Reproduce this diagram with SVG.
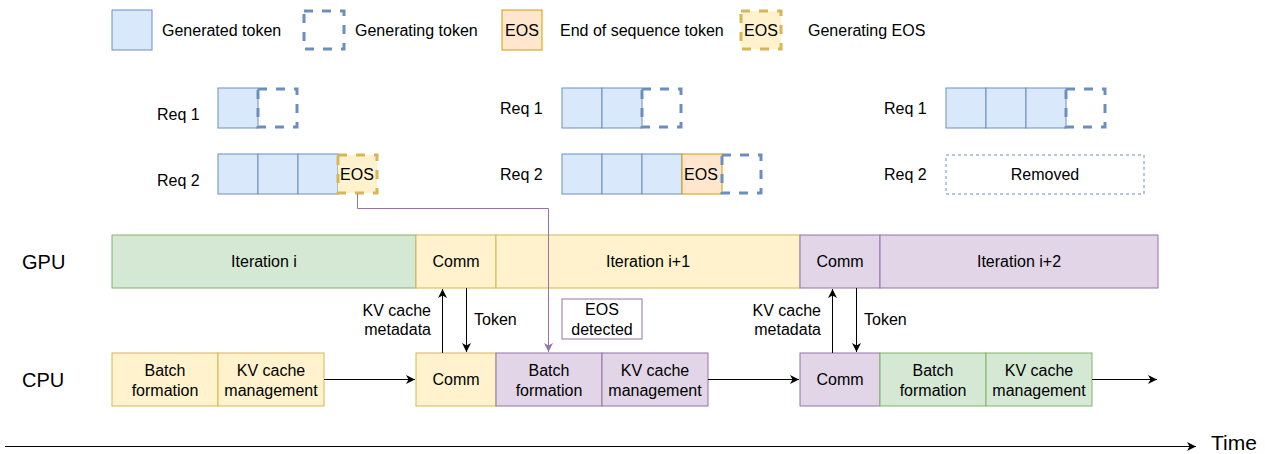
<svg xmlns="http://www.w3.org/2000/svg" width="1265" height="454" viewBox="0 0 1265 454">
<style>
text{font-family:"Liberation Sans",Arial,sans-serif;font-size:16px;fill:#000}
.c{text-anchor:middle}
.r{text-anchor:end}
.b{fill:#dae8fc;stroke:#6c8ebf;stroke-width:1}
.bd{fill:none;stroke:#6c8ebf;stroke-width:3;stroke-dasharray:9 9}
.o{fill:#ffe6cc;stroke:#d79b00;stroke-width:1}
.yd{fill:#fff2cc;stroke:#d6b656;stroke-width:3;stroke-dasharray:9 9}
.y{fill:#fff2cc;stroke:#d6b656;stroke-width:1}
.g{fill:#d5e8d4;stroke:#82b366;stroke-width:1}
.p{fill:#e1d5e7;stroke:#9673a6;stroke-width:1}
.rm{fill:none;stroke:#6c8ebf;stroke-width:1;stroke-dasharray:3 3}
.ln{fill:none;stroke:#000;stroke-width:1}
</style>
<defs>
<marker id="ah" markerWidth="10" markerHeight="10" refX="9" refY="5" orient="auto" markerUnits="userSpaceOnUse">
<path d="M0,0.5 L9,5 L0,9.5 L2.5,5 Z" fill="#000"/>
</marker>
<marker id="ahp" markerWidth="10" markerHeight="10" refX="9" refY="5" orient="auto" markerUnits="userSpaceOnUse">
<path d="M0,0.5 L9,5 L0,9.5 L2.5,5 Z" fill="#9673a6"/>
</marker>
</defs>

<g id="legend">
<rect class="b" x="112" y="10" width="40" height="40"/>
<text x="162" y="36">Generated token</text>
<rect class="bd" x="304" y="11" width="40" height="38"/>
<text x="355" y="36">Generating token</text>
<rect class="o" x="502" y="10" width="40" height="40"/>
<text class="c" x="522" y="36">EOS</text>
<text x="560" y="36">End of sequence token</text>
<rect class="yd" x="741" y="11" width="40" height="38"/>
<text class="c" x="761" y="36">EOS</text>
<text x="808" y="36">Generating EOS</text>
</g>

<g id="snapshot1">
<text x="157" y="120">Req 1</text>
<rect class="b" x="218" y="88" width="40" height="40"/>
<rect class="bd" x="258" y="89" width="39" height="38"/>
<text x="157" y="186">Req 2</text>
<rect class="b" x="218" y="154" width="40" height="40"/>
<rect class="b" x="258" y="154" width="40" height="40"/>
<rect class="b" x="298" y="154" width="40" height="40"/>
<rect class="yd" x="338" y="155" width="39" height="38"/>
<text class="c" x="357" y="180">EOS</text>
</g>

<g id="snapshot2">
<text x="500" y="114">Req 1</text>
<rect class="b" x="562" y="88" width="40" height="40"/>
<rect class="b" x="602" y="88" width="40" height="40"/>
<rect class="bd" x="642" y="89" width="39" height="38"/>
<text x="500" y="180">Req 2</text>
<rect class="b" x="562" y="154" width="40" height="40"/>
<rect class="b" x="602" y="154" width="40" height="40"/>
<rect class="b" x="642" y="154" width="40" height="40"/>
<rect class="o" x="682" y="154" width="40" height="40"/>
<text class="c" x="701" y="180">EOS</text>
<rect class="bd" x="722" y="155" width="39" height="38"/>
</g>

<g id="snapshot3">
<text x="884" y="114">Req 1</text>
<rect class="b" x="946" y="88" width="40" height="40"/>
<rect class="b" x="986" y="88" width="40" height="40"/>
<rect class="b" x="1026" y="88" width="40" height="40"/>
<rect class="bd" x="1066" y="89" width="39" height="38"/>
<text x="884" y="180">Req 2</text>
<rect class="rm" x="946" y="155" width="198" height="39"/>
<text class="c" x="1045" y="180">Removed</text>
</g>

<g id="gpu">
<text x="22" y="269" style="font-size:20px">GPU</text>
<g id="iter-i"><rect class="g" x="112" y="235" width="304" height="53"/><text class="c" x="264" y="267">Iteration i</text></g>
<g id="gpu-comm1"><rect class="y" x="416" y="235" width="80" height="53"/><text class="c" x="456" y="267">Comm</text></g>
<g id="iter-i1"><rect class="y" x="496" y="235" width="304" height="53"/><text class="c" x="648" y="267">Iteration i+1</text></g>
<g id="gpu-comm2"><rect class="p" x="800" y="235" width="80" height="53"/><text class="c" x="840" y="267">Comm</text></g>
<g id="iter-i2"><rect class="p" x="880" y="235" width="278" height="53"/><text class="c" x="1019" y="267">Iteration i+2</text></g>
</g>

<g id="cpu">
<text x="22" y="387" style="font-size:20px">CPU</text>
<g id="bf1"><rect class="y" x="112" y="353" width="106" height="53"/><text class="c" x="165" y="376">Batch</text><text class="c" x="165" y="396">formation</text></g>
<g id="kv1"><rect class="y" x="218" y="353" width="106" height="53"/><text class="c" x="271" y="376">KV cache</text><text class="c" x="271" y="396">management</text></g>
<g id="cpu-comm1"><rect class="y" x="416" y="353" width="80" height="53"/><text class="c" x="456" y="385">Comm</text></g>
<g id="bf2"><rect class="p" x="496" y="353" width="106" height="53"/><text class="c" x="549" y="376">Batch</text><text class="c" x="549" y="396">formation</text></g>
<g id="kv2"><rect class="p" x="602" y="353" width="106" height="53"/><text class="c" x="655" y="376">KV cache</text><text class="c" x="655" y="396">management</text></g>
<g id="cpu-comm2"><rect class="p" x="800" y="353" width="80" height="53"/><text class="c" x="840" y="385">Comm</text></g>
<g id="bf3"><rect class="g" x="880" y="353" width="106" height="53"/><text class="c" x="933" y="376">Batch</text><text class="c" x="933" y="396">formation</text></g>
<g id="kv3"><rect class="g" x="986" y="353" width="106" height="53"/><text class="c" x="1039" y="376">KV cache</text><text class="c" x="1039" y="396">management</text></g>
</g>

<g id="eos-detected">
<rect x="562" y="299" width="80" height="40" fill="#fff" stroke="#9673a6"/>
<text class="c" x="602" y="315">EOS</text>
<text class="c" x="602" y="335">detected</text>
</g>

<g id="connectors">
<path class="ln" d="M324,379.5 L415,379.5" marker-end="url(#ah)"/>
<path class="ln" d="M708,379.5 L799,379.5" marker-end="url(#ah)"/>
<path class="ln" d="M1092,379.5 L1157,379.5" marker-end="url(#ah)"/>
<path class="ln" d="M442.5,353 L442.5,289" marker-end="url(#ah)"/>
<path class="ln" d="M466.5,288 L466.5,352" marker-end="url(#ah)"/>
<path class="ln" d="M832.5,353 L832.5,289" marker-end="url(#ah)"/>
<path class="ln" d="M856.5,288 L856.5,352" marker-end="url(#ah)"/>
<path d="M357.5,194 L357.5,208.5 L548.5,208.5 L548.5,352" fill="none" stroke="#9673a6" stroke-width="1" marker-end="url(#ahp)"/>
<path class="ln" d="M5,446.5 L1196,446.5" marker-end="url(#ah)"/>
</g>

<g id="labels">
<text class="r" x="431" y="316">KV cache</text>
<text class="r" x="431" y="335">metadata</text>
<text x="474" y="325">Token</text>
<text class="r" x="821" y="316">KV cache</text>
<text class="r" x="821" y="335">metadata</text>
<text x="864" y="325">Token</text>
<text x="1211" y="450" style="font-size:21px">Time</text>
</g>
</svg>
